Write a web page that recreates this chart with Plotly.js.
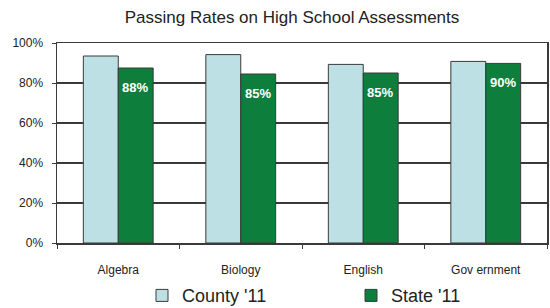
<!DOCTYPE html>
<html><head><meta charset="utf-8">
<script src="https://cdn.plot.ly/plotly-3.0.1.min.js"></script>
<style>html,body{margin:0;padding:0;background:#fff}#c{width:550px;height:308px}</style>
</head><body><div id="c"></div>
<script>
const categories = ["Algebra", "Biology", "English", "Gov ernment"];
const countyValues = [93.5, 94.2, 89.3, 90.8];
const stateValues = [87.5, 84.5, 85.0, 89.8];
const stateLabels = ["88%", "85%", "85%", "90%"];
const yTickVals = [0, 20, 40, 60, 80, 100];
const yTickText = ["0%", "20%", "40%", "60%", "80%", "100%"];

const lineCol = "#3a3a3a";
const data = [
  {type: "bar", name: "County '11", x: categories, y: countyValues,
   marker: {color: "#bde0e5", line: {color: lineCol, width: 1}}, hoverinfo: "none"},
  {type: "bar", name: "State '11", x: categories, y: stateValues,
   marker: {color: "#0e7e3c", line: {color: lineCol, width: 1}}, hoverinfo: "none"}
];
const annotations = categories.map((c, i) => ({
  x: c, y: stateValues[i], xref: "x", yref: "y", text: stateLabels[i],
  showarrow: false, xshift: 17, yshift: -19, yanchor: "middle",
  font: {family: "Liberation Sans, Arial", size: 13, color: "#ffffff", weight: "bold"}
}));
const layout = {
  width: 550, height: 308,
  margin: {l: 57, r: 3, t: 43, b: 65, autoexpand: false},
  paper_bgcolor: "#fff", plot_bgcolor: "#fff",
  font: {family: "Liberation Sans, Arial", color: "#222"},
  title: {text: "Passing Rates on High School Assessments", x: 0.531, xanchor: "center", y: 0.945, yanchor: "middle",
          font: {size: 17, color: "#222"}},
  barmode: "group", bargap: 0.43, bargroupgap: 0,
  showlegend: true,
  annotations: annotations,
  legend: {orientation: "h", x: 0.6, xanchor: "center", yref: "container", y: 0.1, yanchor: "top",
           font: {size: 18, color: "#222"},
           entrywidth: 164, entrywidthmode: "pixels", itemwidth: 30, traceorder: "normal"},
  xaxis: {type: "category", showline: true, linecolor: lineCol, linewidth: 1.5, mirror: true,
          ticks: "outside", tickson: "boundaries", ticklen: 4, tickcolor: lineCol,
          tickfont: {size: 12, color: "#222"}, ticklabelstandoff: 15, showgrid: false},
  yaxis: {range: [0, 100], tickvals: yTickVals, ticktext: yTickText,
          showline: true, linecolor: lineCol, linewidth: 1.5, mirror: true,
          ticks: "outside", ticklen: 4, tickcolor: lineCol,
          showgrid: true, gridcolor: lineCol, gridwidth: 1.2,
          tickfont: {size: 12, color: "#222"}, ticklabelstandoff: 6, zeroline: false}
};
Plotly.newPlot("c", data, layout, {staticPlot: true, displayModeBar: false});
</script></body></html>
